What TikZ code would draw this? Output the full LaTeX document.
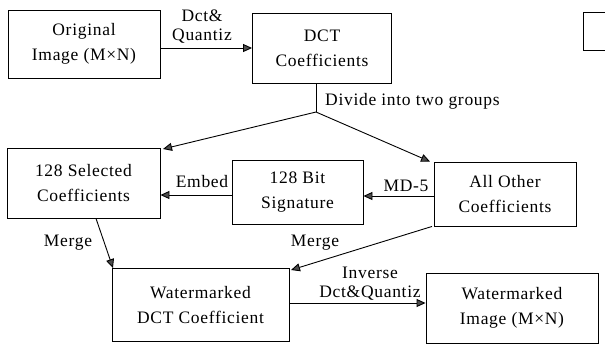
\documentclass[tikz,border=0pt]{standalone}
\usepackage{fontspec}
\setmainfont{Liberation Serif}[LetterSpace=4]
\usetikzlibrary{arrows.meta}
\begin{document}
\begin{tikzpicture}[x=1pt,y=-1pt,
  blk/.style={draw,line width=0.9pt,inner sep=0pt},
  lbl/.style={font=\fontsize{17.5}{25}\selectfont,align=center,inner sep=0pt},
  tight/.style={font=\fontsize{17.5}{19}\selectfont},
  arr/.style={line width=0.9pt,-{Triangle[length=9pt,width=8pt,fill=black!70]}},
  ln/.style={line width=0.9pt}]
\useasboundingbox (0,0) rectangle (605,349);
\fill[white] (0,0) rectangle (605,349);
% boxes
\node[blk,minimum width=152pt,minimum height=68pt] (orig) at (84,44) {};
\node[lbl] at (orig.center) {Original\\Image (M×N)};
\node[blk,minimum width=139pt,minimum height=70pt] (dct) at (322,48) {};
\node[lbl] at (dct.center) {DCT\\Coefficients};
\node[blk,minimum width=153pt,minimum height=70pt] (sel) at (83.5,183) {};
\node[lbl] at (sel.center) {128 Selected\\Coefficients};
\node[blk,minimum width=131pt,minimum height=64pt] (sig) at (297.5,192) {};
\node[lbl] at (sig.center) {128 Bit\\Signature};
\node[blk,minimum width=142pt,minimum height=64pt] (oth) at (505,194) {};
\node[lbl] at (oth.center) {All Other\\Coefficients};
\node[blk,minimum width=177pt,minimum height=73pt] (wdct) at (200.5,305) {};
\node[lbl] at (wdct.center) {Watermarked\\DCT Coefficient};
\node[blk,minimum width=172pt,minimum height=70pt] (wimg) at (512,308) {};
\node[lbl] at (wimg.center) {Watermarked\\Image (M×N)};
% partial box at right edge
\begin{scope}
\clip (0,0) rectangle (605,349);
\node[blk,minimum width=40pt,minimum height=38pt] (part) at (603,31) {};
\end{scope}
% connectors
\coordinate (br) at (316,112);
\draw[arr] (orig.east |- 0,48) -- (dct.west |- 0,48);
\node[lbl,tight] (l1) at (202,27) {Dct\&\\Quantiz};
\draw[ln] (dct.south -| br) -- (br);
\node[lbl,anchor=west] (l2) at (325,101) {Divide into two groups};
\draw[arr] (br) -- (oth.north -| 430,0);
\draw[arr] (br) -- (163,149);
\draw[arr] (oth.west |- 0,196) -- (sig.east |- 0,196);
\node[lbl] (l3) at (406,186) {MD-5};
\draw[arr] (sig.west |- 0,195) -- (sel.east |- 0,195);
\node[lbl] (l4) at (202,182) {Embed};
\draw[arr] (sel.south -| 96,0) -- (wdct.north -| 113,0);
\node[lbl] (l5) at (68,243) {Merge};
\draw[arr] (oth.south -| 432,0) -- (291,270);
\node[lbl] (l6) at (315,243) {Merge};
\draw[arr] (wdct.east |- 0,303) -- (wimg.west |- 0,303);
\node[lbl,tight] (l7) at (370,284) {Inverse\\Dct\&Quantiz};
\end{tikzpicture}
\end{document}
